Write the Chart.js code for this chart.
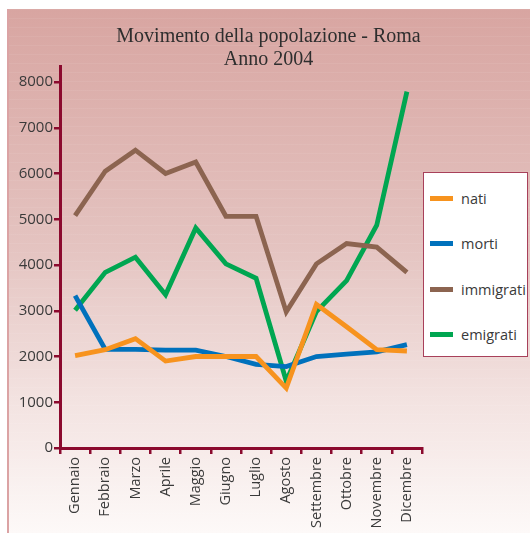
<!DOCTYPE html>
<html>
<head>
<meta charset="utf-8">
<script src="https://cdn.jsdelivr.net/npm/chart.js@4/dist/chart.umd.min.js"></script>
<style>
  html, body { margin: 0; padding: 0; background: #fff; }
  body { width: 530px; height: 533px; position: relative; overflow: hidden; font-family: "Open Sans", sans-serif; }
  #panel {
    position: absolute; left: 7px; top: 9px; width: 523px; height: 524px;
    background:
      repeating-linear-gradient(to bottom, rgba(255,255,255,0.06) 0 1px, transparent 1px 9px),
      linear-gradient(to bottom, #d8a5a1 0%, #e4c3c0 45%, #f3e3e1 75%, #fdf9f8 100%);
    border-left: 2px solid #dba3a4;
    box-sizing: border-box;
  }
  #wrap { position: absolute; left: 7px; top: 9px; width: 523px; height: 524px; }
  #legend {
    position: absolute; left: 423px; top: 172px; width: 105px; height: 185px;
    background: #fff; border: 1.5px solid #a8405a; box-sizing: border-box;
  }
  .item { position: absolute; left: 6px; height: 20px; display: flex; align-items: center; }
  .item span.line { display: inline-block; width: 23px; height: 5px; margin-right: 8px; }
  .item span.txt { font-size: 14.5px; color: #3a3a3a; }
</style>
</head>
<body>
<div id="panel"></div>
<div id="wrap"><canvas id="chart" width="523" height="524"></canvas></div>
<div id="legend"></div>
<script>
/* ---------- DATA ---------- */
const months = ["Gennaio", "Febbraio", "Marzo", "Aprile", "Maggio", "Giugno",
  "Luglio", "Agosto", "Settembre", "Ottobre", "Novembre", "Dicembre"];

const nati      = [2020, 2150, 2390, 1900, 2000, 2000, 2000, 1310, 3140, 2650, 2150, 2120];
const morti     = [3330, 2155, 2155, 2140, 2140, 2000, 1830, 1780, 2000, 2050, 2100, 2260];
const immigrati = [5080, 6050, 6510, 6000, 6250, 5065, 5065, 2975, 4025, 4470, 4390, 3840];
const emigrati  = [3010, 3840, 4170, 3350, 4810, 4025, 3710, 1460, 2980, 3660, 4870, 7790];

const seriesNames = ["nati", "morti", "immigrati", "emigrati"];
const seriesColors = ["#f7931e", "#0071bc", "#8c6450", "#00a651"];

const yTicks = [0, 1000, 2000, 3000, 4000, 5000, 6000, 7000, 8000];

const AXIS = "#8b0a2e";
const TEXT = "#3a3a3a";

/* ---------- CHART ---------- */
const seriesData = [nati, morti, immigrati, emigrati];

new Chart(document.getElementById("chart"), {
  type: "line",
  data: {
    labels: months,
    datasets: seriesNames.map((name, i) => ({
      label: name,
      data: seriesData[i],
      borderColor: seriesColors[i],
      backgroundColor: seriesColors[i],
      borderWidth: 4.8,
      pointRadius: 0,
      tension: 0,
      fill: false
    }))
  },
  options: {
    responsive: false,
    animation: false,
    layout: { padding: 0 },
    plugins: {
      legend: { display: false },
      tooltip: { enabled: false },
      title: {
        display: true,
        text: ["Movimento della popolazione - Roma", "Anno 2004"],
        color: "#2e2e2e",
        font: { family: "'Liberation Serif', serif", size: 20, weight: "normal", lineHeight: "23px" },
        padding: { top: 16, bottom: -5 }
      }
    },
    scales: {
      x: {
        type: "category",
        offset: true,
        grid: { offset: true, drawOnChartArea: false, drawTicks: true, tickLength: 6, color: AXIS, lineWidth: 2.5 },
        border: { color: AXIS, width: 3 },
        ticks: {
          autoSkip: false, minRotation: 90, maxRotation: 90, padding: 3,
          color: TEXT, font: { family: "'Open Sans', sans-serif", size: 14.5 }
        },
        afterFit: s => { s.height = 85; }
      },
      y: {
        min: 0, max: 8350,
        grid: { drawOnChartArea: false, drawTicks: true, tickLength: 6, lineWidth: 2.5, color: AXIS },
        border: { color: AXIS, width: 3 },
        ticks: {
          autoSkip: false, padding: 1, color: TEXT,
          font: { family: "'Open Sans', sans-serif", size: 15 },
          callback: v => String(v)
        },
        afterBuildTicks: s => { s.ticks = yTicks.map(v => ({ value: v })); },
        afterFit: s => { s.width = 53; }
      },
      spacer: {
        position: "right",
        display: true,
        grid: { display: false },
        border: { display: false },
        ticks: { display: false },
        afterFit: s => { s.width = 108; }
      }
    }
  }
});

/* ---------- LEGEND ---------- */
const legend = document.getElementById("legend");
const legendTops = [15, 60, 106, 151];
seriesNames.forEach((name, i) => {
  const el = document.createElement("div");
  el.className = "item";
  el.style.top = legendTops[i] + "px";
  el.innerHTML = `<span class="line" style="background:${seriesColors[i]}"></span><span class="txt">${name}</span>`;
  legend.appendChild(el);
});
</script>
</body>
</html>
